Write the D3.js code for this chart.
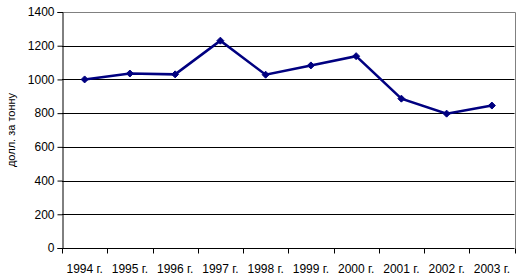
<!DOCTYPE html>
<html>
<head>
<meta charset="utf-8">
<script src="https://cdn.jsdelivr.net/npm/d3@7"></script>
<style>
  body { margin: 0; background: #fff; }
  text { font-family: "Liberation Sans", Arial, sans-serif; }
</style>
</head>
<body>
<script>
var width = 523
var height = 279

// chart data
var years = ["1994 г.", "1995 г.", "1996 г.", "1997 г.", "1998 г.", "1999 г.", "2000 г.", "2001 г.", "2002 г.", "2003 г."]
var prices = [1000, 1035, 1030, 1230, 1028, 1083, 1138, 886, 797, 845]
var yTicks = [0, 200, 400, 600, 800, 1000, 1200, 1400]
var yTitle = "долл. за тонну"

var margin = {top: 12, right: 8.5, bottom: 31, left: 62}

var svg = d3.select("body").append("svg")
    .attr("width", width)
    .attr("height", height)

var x = d3.scaleBand()
    .domain(years)
    .range([margin.left, width - margin.right])

var y = d3.scaleLinear()
    .domain([0, 1400])
    .range([height - margin.bottom, margin.top])

// gridlines
svg.append("g")
    .selectAll("line")
    .data(yTicks.slice(1, -1))
    .enter()
    .append("line")
    .attr("x1", margin.left)
    .attr("x2", width - margin.right)
    .attr("y1", function(d) { return Math.round(y(d)) + 0.5 })
    .attr("y2", function(d) { return Math.round(y(d)) + 0.5 })
    .attr("stroke", "#000")

// plot area border (top / right)
svg.append("path")
    .attr("d", "M" + margin.left + "," + (Math.round(y(1400)) + 0.5) +
        "H" + (Math.round(width - margin.right) + 0.5) +
        "V" + (Math.round(y(0)) + 0.5))
    .attr("fill", "none")
    .attr("stroke", "#808080")

// y axis
var yAxis = svg.append("g")
    .attr("transform", "translate(" + (margin.left + 0.5) + ",0)")
    .call(d3.axisLeft(y).tickValues(yTicks).tickSize(5).tickPadding(3).tickFormat(d3.format("d")))
yAxis.select(".domain").attr("stroke", "#000")
yAxis.selectAll("line").attr("stroke", "#000")
yAxis.selectAll("text")
    .style("font-size", "12px")
    .attr("fill", "#000")

// x axis with ticks at category boundaries
var xAxisG = svg.append("g")
    .attr("transform", "translate(0," + (Math.round(y(0)) + 0.5) + ")")
xAxisG.append("line")
    .attr("x1", margin.left)
    .attr("x2", width - margin.right)
    .attr("stroke", "#000")
var bounds = years.map(function(d) { return x(d) }).concat([width - margin.right])
xAxisG.selectAll(".tk")
    .data(bounds)
    .enter()
    .append("line")
    .attr("class", "tk")
    .attr("x1", function(d) { return Math.round(d) + 0.5 })
    .attr("x2", function(d) { return Math.round(d) + 0.5 })
    .attr("y1", 0)
    .attr("y2", 5)
    .attr("stroke", "#000")
xAxisG.selectAll(".lbl")
    .data(years)
    .enter()
    .append("text")
    .attr("class", "lbl")
    .attr("x", function(d) { return x(d) + x.bandwidth() / 2 })
    .attr("y", 24.5)
    .attr("text-anchor", "middle")
    .style("font-size", "12px")
    .text(function(d) { return d })

// y title
svg.append("text")
    .attr("transform", "translate(15," + ((y(0) + y(1400)) / 2) + ") rotate(-90)")
    .attr("text-anchor", "middle")
    .style("font-size", "11px")
    .text(yTitle)

// line
var line = d3.line()
    .x(function(d, i) { return x(years[i]) + x.bandwidth() / 2 })
    .y(function(d) { return y(d) })

svg.append("path")
    .datum(prices)
    .attr("d", line)
    .attr("fill", "none")
    .attr("stroke", "#000080")
    .attr("stroke-width", 2.5)

// diamond markers
svg.selectAll(".mk")
    .data(prices)
    .enter()
    .append("path")
    .attr("class", "mk")
    .attr("transform", function(d, i) {
        return "translate(" + (x(years[i]) + x.bandwidth() / 2) + "," + y(d) + ")"
    })
    .attr("d", "M0,-3.5L3.5,0L0,3.5L-3.5,0Z")
    .attr("fill", "#000080")
    .attr("stroke", "#000080")
</script>
</body>
</html>
